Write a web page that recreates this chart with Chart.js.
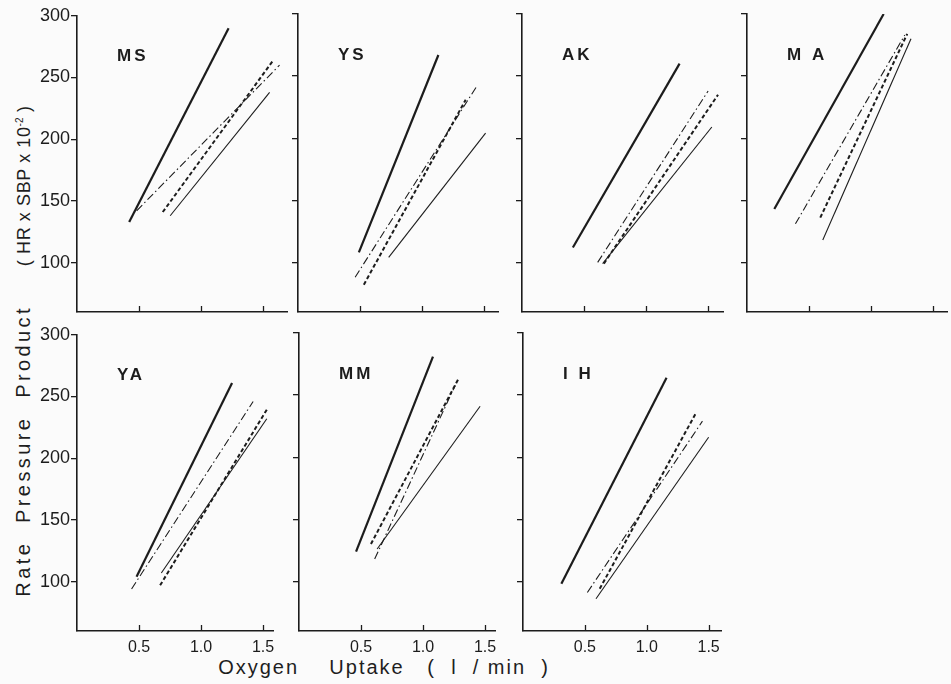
<!DOCTYPE html>
<html><head><meta charset="utf-8">
<script src="https://cdn.jsdelivr.net/npm/chart.js@4.4.0/dist/chart.umd.min.js"></script>
<style>
html,body{margin:0;padding:0;background:#fbfbfb;}
#wrap{position:relative;width:951px;height:684px;overflow:hidden;background:#fbfbfb;font-family:'Liberation Sans',Arial,sans-serif;color:#1e1e1e;}
#wrap canvas{position:absolute;}
.ytitle{position:absolute;left:23px;top:351px;transform:translate(-50%,-50%) rotate(-90deg);white-space:pre;font-size:20px;}
.ytitle .a{letter-spacing:3.4px;}
.ytitle .b{font-size:18px;letter-spacing:0.6px;}
.ytitle sup{font-size:10px;letter-spacing:0;}
.xtitle{position:absolute;left:384px;top:667px;transform:translate(-50%,-50%);white-space:pre;font-size:20px;letter-spacing:2px;}
</style></head>
<body><div id="wrap">
<div class="ytitle"><span class="a">Rate  Pressure  Product</span>       <span class="b">( HR x SBP x 10<sup>-2</sup> )</span></div>
<div class="xtitle">Oxygen    Uptake   (  l  / min  )</div>
</div>
<script>
// ---- data ----
const panelNames = ["MS", "YS", "AK", "M A", "YA", "MM", "I H"];
const xTickValues = [0.5, 1.0, 1.5];
const yTickValues = [100, 150, 200, 250, 300];
const yMin = 60, yMax = 300;
const xMaxes = [1.69, 1.61, 1.62, 1.61, 1.58, 1.58, 1.6];
// each line: [x start, y start, x end, y end]
const thickSolid = [
  [0.42, 133, 1.22, 290],
  [0.49, 108, 1.13, 267],
  [0.41, 112, 1.27, 260],
  [0.22, 143, 1.10, 300],
  [0.48, 104, 1.25, 261],
  [0.46, 124, 1.08, 281],
  [0.31, 98, 1.16, 264]
];
const dashDot = [
  [0.48, 142, 1.63, 260],
  [0.46, 88, 1.44, 242],
  [0.61, 100, 1.50, 238],
  [0.39, 131, 1.27, 283],
  [0.44, 94, 1.42, 246],
  [0.61, 118, 1.26, 258],
  [0.52, 91, 1.45, 229]
];
const dashed = [
  [0.69, 141, 1.58, 264],
  [0.53, 82, 1.35, 231],
  [0.66, 99, 1.58, 235],
  [0.59, 136, 1.29, 284],
  [0.67, 97, 1.54, 241],
  [0.58, 130, 1.29, 264],
  [0.62, 94, 1.40, 236]
];
const thinSolid = [
  [0.75, 138, 1.55, 238],
  [0.73, 104, 1.51, 204],
  [0.65, 99, 1.53, 209],
  [0.61, 118, 1.32, 280],
  [0.68, 107, 1.53, 232],
  [0.63, 126, 1.46, 241],
  [0.59, 86, 1.50, 216]
];

// ---- layout ----
const INK = '#1c1c1c';
const FONT = "'Liberation Sans', Arial, sans-serif";
const panelBox = [
  {L: 77, T: 14, W: 210}, {L: 298, T: 14, W: 200}, {L: 522, T: 14, W: 201}, {L: 747, T: 14, W: 200},
  {L: 77, T: 333, W: 196}, {L: 299, T: 333, W: 196}, {L: 523, T: 333, W: 198}
];
const PH = 298, PL = 60, PT = 10, PR = 10, PB = 40;

const toPts = a => [{x: a[0], y: a[1]}, {x: a[2], y: a[3]}];

const decor = {
  id: 'decor',
  afterDraw(chart, args, opts) {
    const ctx = chart.ctx, ca = chart.chartArea, sx = chart.scales.x;
    ctx.save();
    ctx.strokeStyle = INK; ctx.lineWidth = 1.3;
    xTickValues.forEach(v => {
      const px = Math.round(sx.getPixelForValue(v)) + 0.5;
      ctx.beginPath(); ctx.moveTo(px, ca.bottom); ctx.lineTo(px, ca.bottom - 6); ctx.stroke();
    });
    ctx.fillStyle = INK;
    ctx.font = "bold 17px " + FONT;
    ctx.letterSpacing = '3px';
    ctx.textBaseline = 'middle';
    ctx.fillText(opts.name, ca.left + 40, ca.top + 41);
    ctx.restore();
  }
};

const wrap = document.getElementById('wrap');
panelNames.forEach((name, i) => {
  const b = panelBox[i];
  const cv = document.createElement('canvas');
  cv.width = PL + b.W + PR; cv.height = PT + PH + PB;
  cv.style.left = (b.L - PL) + 'px'; cv.style.top = (b.T - PT) + 'px';
  cv.style.width = cv.width + 'px'; cv.style.height = cv.height + 'px';
  wrap.appendChild(cv);
  const showY = (i === 0 || i === 4);
  const showX = (i >= 4);
  const mk = (arr, w, dash) => ({data: toPts(arr[i]), showLine: true, borderColor: INK, borderWidth: w,
    borderDash: dash, pointRadius: 0, fill: false, tension: 0, borderCapStyle: 'butt'});
  new Chart(cv, {
    type: 'scatter',
    data: {datasets: [
      mk(thickSolid, 2.2, []),
      mk(dashDot, 1.1, [8, 3, 1.5, 3]),
      mk(dashed, 2, [4, 2.5]),
      mk(thinSolid, 1.1, [])
    ]},
    options: {
      responsive: false, animation: false, events: [], devicePixelRatio: 1,
      layout: {padding: {left: 0, top: PT, right: PR, bottom: 0}, autoPadding: false},
      plugins: {legend: {display: false}, tooltip: {enabled: false}, decor: {name}},
      scales: {
        x: {type: 'linear', min: 0, max: xMaxes[i],
          afterFit: s => { s.height = PB; },
          afterBuildTicks: s => { s.ticks = xTickValues.map(v => ({value: v})); },
          grid: {display: false, drawTicks: false},
          border: {display: true, color: INK, width: 1.6},
          ticks: {display: showX, padding: 7, color: INK, font: {family: FONT, size: 16},
            callback: v => v.toFixed(1)}
        },
        y: {type: 'linear', min: yMin, max: yMax,
          afterFit: s => { s.width = PL; },
          afterBuildTicks: s => { s.ticks = yTickValues.map(v => ({value: v})); },
          grid: {display: true, drawOnChartArea: false, drawTicks: true, tickLength: 6, color: INK, lineWidth: 1.3},
          border: {display: true, color: INK, width: 1.6},
          ticks: {display: showY, padding: 1, color: INK, font: {family: FONT, size: 18}}
        }
      }
    },
    plugins: [decor]
  });
});
</script>
</body></html>
